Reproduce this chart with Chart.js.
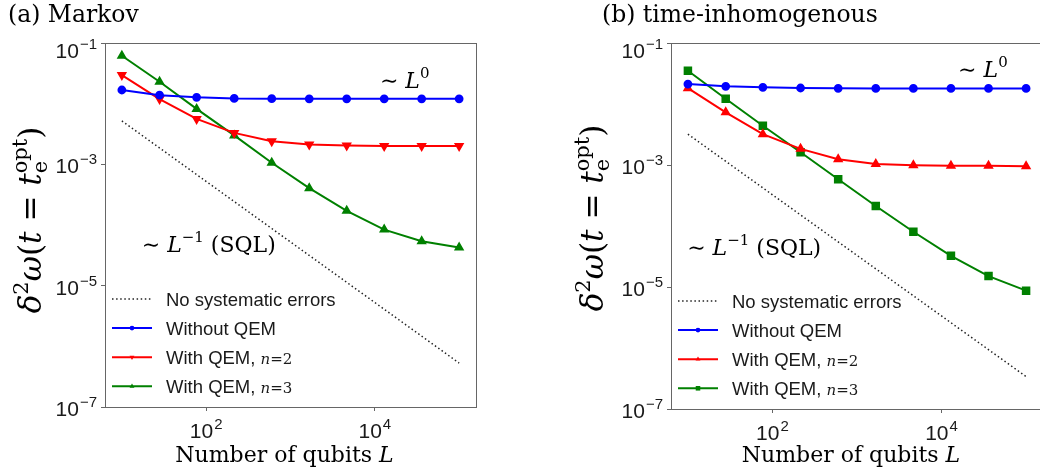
<!DOCTYPE html>
<html>
<head>
<meta charset="utf-8">
<script src="https://cdn.jsdelivr.net/npm/chart.js@4.4.0/dist/chart.umd.min.js"></script>
<style>
  html, body { margin: 0; padding: 0; background: #fff; }
  body { width: 1040px; height: 475px; overflow: hidden; position: relative; }
  canvas { position: absolute; top: 0; }
  #markov { left: 0; }
  #inhom { left: 520px; }
</style>
</head>
<body>
<canvas id="markov" width="520" height="475"></canvas>
<canvas id="inhom" width="540" height="475"></canvas>
<script>
// number of qubits L (log-spaced, 10 .. 1e5)
const qubits = [10, 28, 77, 215, 599, 1668, 4642, 12915, 35938, 100000];
const sqlEnds = [10, 100000];
const seriesLabels = ['No systematic errors', 'Without QEM', 'With QEM, n=2', 'With QEM, n=3'];
const xTickValues = [1e2, 1e4];
const xTickExps = ['2', '4'];
const yTickValues = [1e-1, 1e-3, 1e-5, 1e-7];
const yTickExps = ['\u22121', '\u22123', '\u22125', '\u22127'];

// (a) Markov
const markovSql = [5.2e-3, 5.3e-7];
const markovNoQem = [0.0168, 0.0138, 0.0127, 0.0122, 0.0121, 0.0120, 0.0120, 0.0120, 0.0120, 0.0120];
const markovQem2 = [0.0296, 0.0119, 0.0056, 0.0033, 0.0024, 0.00213, 0.00204, 0.0020, 0.0020, 0.0020];
const markovQem3 = [0.0617, 0.0230, 0.0082, 0.0030, 0.00106, 0.000405, 0.000171, 8.4e-5, 5.4e-5, 4.25e-5];

// (b) time-inhomogenous
const inhomSql = [3.2e-3, 3.4e-7];
const inhomNoQem = [0.0212, 0.0195, 0.0188, 0.0183, 0.0181, 0.0180, 0.0180, 0.0180, 0.0180, 0.0180];
const inhomQem2 = [0.0182, 0.0073, 0.0032, 0.00184, 0.00124, 0.00104, 0.00099, 0.00097, 0.00097, 0.00095];
const inhomQem3 = [0.0351, 0.0122, 0.0044, 0.00162, 0.000585, 0.000213, 8.05e-5, 3.25e-5, 1.51e-5, 8.7e-6];

const SERIF = '"DejaVu Serif", serif';
const SANS = '"Liberation Sans", Arial, sans-serif';
const font = (size, italic) => (italic ? 'italic ' : '') + size + 'px ' + SERIF;

function toPoints(xs, ys) {
  return xs.map((x, i) => ({ x: x, y: ys[i] }));
}

// pieces of text with their own font and vertical shift
function richWidth(ctx, parts) {
  let w = 0;
  for (const p of parts) {
    ctx.font = p.f;
    if (p.sup !== undefined) {
      w += Math.max(ctx.measureText(p.sup).width, ctx.measureText(p.sub).width);
    } else {
      w += ctx.measureText(p.t).width;
    }
  }
  return w;
}

function drawRich(ctx, parts, x, y) {
  let cx = x;
  for (const p of parts) {
    ctx.font = p.f;
    if (p.sup !== undefined) {
      ctx.fillText(p.sup, cx, y + p.supDy);
      ctx.fillText(p.sub, cx, y + p.subDy);
      cx += Math.max(ctx.measureText(p.sup).width, ctx.measureText(p.sub).width);
    } else {
      ctx.fillText(p.t, cx, y + (p.dy || 0));
      cx += ctx.measureText(p.t).width;
    }
  }
}

function drawPower(ctx, exp, x, y, align) {
  ctx.font = '21px ' + SANS;
  const w1 = ctx.measureText('10').width;
  ctx.font = '15px ' + SANS;
  const w2 = ctx.measureText(exp).width;
  const start = align === 'right' ? x - w1 - w2 - 1 : x - (w1 + w2 + 1) / 2;
  ctx.font = '21px ' + SANS;
  ctx.fillText('10', start, y);
  ctx.font = '15px ' + SANS;
  ctx.fillText(exp, start + w1 + 1, y - 9);
}

const yLabelParts = [
  { t: '\u03b4', f: font(31, true) },
  { t: '2', f: font(21), dy: -13 },
  { t: '\u03c9', f: font(31, true) },
  { t: '(', f: font(31) },
  { t: 't', f: font(31, true) },
  { t: ' = ', f: font(31) },
  { t: 't', f: font(31, true) },
  { sup: 'opt', sub: 'e', f: font(21), supDy: -14, subDy: 6 },
  { t: ')', f: font(31) },
];

const xLabelParts = [
  { t: 'Number of qubits ', f: font(22) },
  { t: 'L', f: font(22, true) },
];

const flatNote = [
  { t: '\u223c ', f: font(22) },
  { t: 'L', f: font(22, true) },
  { t: '0', f: font(15), dy: -10 },
];

const sqlNote = [
  { t: '\u223c ', f: font(22) },
  { t: 'L', f: font(22, true) },
  { t: '\u22121', f: font(15), dy: -10 },
  { t: ' (SQL)', f: font(22) },
];

const panelText = {
  id: 'panelText',
  afterDraw(chart, args, opts) {
    const ctx = chart.ctx;
    const area = chart.chartArea;
    const xs = chart.scales.x;
    const ys = chart.scales.y;
    ctx.save();

    // frame
    ctx.strokeStyle = '#666';
    ctx.lineWidth = 1;
    ctx.strokeRect(area.left + 0.5, area.top + 0.5, area.right - area.left, area.bottom - area.top);

    // tick labels
    ctx.fillStyle = '#1a1a1a';
    ctx.textBaseline = 'alphabetic';
    xTickValues.forEach((v, i) => drawPower(ctx, xTickExps[i], xs.getPixelForValue(v), area.bottom + 31, 'center'));
    yTickValues.forEach((v, i) => {
      const py = Math.max(ys.getPixelForValue(v) + 9, area.top + 15);
      drawPower(ctx, yTickExps[i], area.left - 8, py, 'right');
    });

    // title
    ctx.fillStyle = '#000';
    ctx.font = font(23.5);
    ctx.fillText(opts.title, opts.titleX, 22);

    // axis labels
    const xw = richWidth(ctx, xLabelParts);
    drawRich(ctx, xLabelParts, (area.left + area.right) / 2 - 6 - xw / 2, 462);

    const yw = richWidth(ctx, yLabelParts);
    ctx.save();
    ctx.translate(opts.yLabelX, opts.yLabelY);
    ctx.rotate(-Math.PI / 2);
    drawRich(ctx, yLabelParts, -yw / 2, 0);
    ctx.restore();

    // notes in data coordinates
    for (const n of opts.notes) {
      drawRich(ctx, n.parts, xs.getPixelForValue(n.x), ys.getPixelForValue(n.y));
    }

    // legend
    chart.data.datasets.forEach((ds, i) => {
      const y = area.bottom - 108 + i * 29.1;
      const x0 = area.left + 7;
      ctx.strokeStyle = ds.borderColor;
      ctx.lineWidth = ds.borderWidth;
      ctx.setLineDash(ds.borderDash || []);
      ctx.beginPath();
      ctx.moveTo(x0, y);
      ctx.lineTo(x0 + 40, y);
      ctx.stroke();
      ctx.setLineDash([]);
      if (ds.pointRadius > 0) {
        ctx.fillStyle = ds.borderColor;
        Chart.helpers.drawPoint(ctx, {
          pointStyle: ds.pointStyle, rotation: ds.rotation || 0,
          radius: ds.pointRadius * 0.7, borderWidth: 0,
        }, x0 + 20, y);
      }
      ctx.fillStyle = '#1a1a1a';
      const label = ds.label;
      const k = label.indexOf('n=');
      const ty = y + 6.6;
      ctx.font = '18.5px ' + SANS;
      if (k < 0) {
        ctx.fillText(label, x0 + 54, ty);
      } else {
        const head = label.slice(0, k);
        ctx.fillText(head, x0 + 54, ty);
        const hx = x0 + 54 + ctx.measureText(head).width;
        drawRich(ctx, [
          { t: 'n', f: font(15, true) },
          { t: '=', f: font(15) },
          { t: label.slice(k + 2), f: font(15) },
        ], hx, ty);
      }
    });

    ctx.restore();
  },
};

function makeChart(id, cfg) {
  const ctx = document.getElementById(id);
  return new Chart(ctx, {
    type: 'line',
    data: {
      datasets: [
        {
          label: seriesLabels[0],
          data: toPoints(sqlEnds, cfg.sql),
          borderColor: '#222',
          borderWidth: 1.5,
          borderDash: [1.5, 2.6],
          pointRadius: 0,
        },
        {
          label: seriesLabels[1],
          data: toPoints(qubits, cfg.noQem),
          borderColor: '#0000ff',
          backgroundColor: '#0000ff',
          borderWidth: 2,
          pointStyle: 'circle',
          pointRadius: 3.4,
        },
        {
          label: seriesLabels[2],
          data: toPoints(qubits, cfg.qem2),
          borderColor: '#ff0000',
          backgroundColor: '#ff0000',
          borderWidth: 2,
          pointStyle: 'triangle',
          rotation: cfg.qem2Rotation,
          pointRadius: 4,
        },
        {
          label: seriesLabels[3],
          data: toPoints(qubits, cfg.qem3),
          borderColor: '#008000',
          backgroundColor: '#008000',
          borderWidth: 2,
          pointStyle: cfg.qem3Style,
          pointRadius: cfg.qem3Style === 'rect' ? 4.6 : 4,
        },
      ],
    },
    options: {
      responsive: false,
      animation: false,
      layout: {
        padding: { left: 0, top: 43, right: cfg.padRight, bottom: 0 },
      },
      elements: {
        line: { tension: 0 },
        point: { borderWidth: 0, hoverRadius: 4 },
      },
      plugins: {
        legend: { display: false },
        tooltip: { enabled: false },
        panelText: {
          title: cfg.title,
          titleX: cfg.titleX,
          yLabelX: cfg.yLabelX,
          yLabelY: cfg.yLabelY,
          notes: cfg.notes,
        },
      },
      scales: {
        x: {
          type: 'logarithmic',
          min: 6.3096,
          max: 158489,
          afterBuildTicks: (scale) => {
            scale.ticks = xTickValues.map((v) => ({ value: v }));
          },
          afterFit: (scale) => {
            scale.height = cfg.xAxisHeight;
          },
          ticks: { display: false },
          grid: { drawOnChartArea: false, tickLength: 4, color: '#666' },
          border: { display: false },
        },
        y: {
          type: 'logarithmic',
          min: 1e-7,
          max: 1e-1,
          afterBuildTicks: (scale) => {
            scale.ticks = yTickValues.map((v) => ({ value: v }));
          },
          afterFit: (scale) => {
            scale.width = cfg.yAxisWidth;
          },
          ticks: { display: false },
          grid: { drawOnChartArea: false, tickLength: 4, color: '#666' },
          border: { display: false },
        },
      },
    },
    plugins: [panelText],
  });
}

makeChart('markov', {
  sql: markovSql, noQem: markovNoQem, qem2: markovQem2, qem3: markovQem3,
  qem2Rotation: 180, qem3Style: 'triangle',
  padRight: 44, yAxisWidth: 105, xAxisHeight: 68,
  title: '(a) Markov', titleX: 8, yLabelX: 41, yLabelY: 220,
  notes: [
    { x: 11500, y: 0.0179, parts: flatNote },
    { x: 17.2, y: 3.6e-5, parts: sqlNote },
  ],
});

makeChart('inhom', {
  sql: inhomSql, noQem: inhomNoQem, qem2: inhomQem2, qem3: inhomQem3,
  qem2Rotation: 0, qem3Style: 'rect',
  padRight: 17, yAxisWidth: 151, xAxisHeight: 66,
  title: '(b) time-inhomogenous', titleX: 82, yLabelX: 83, yLabelY: 218,
  notes: [
    { x: 15700, y: 0.0277, parts: flatNote },
    { x: 9.8, y: 3.34e-5, parts: sqlNote },
  ],
});
</script>
</body>
</html>
